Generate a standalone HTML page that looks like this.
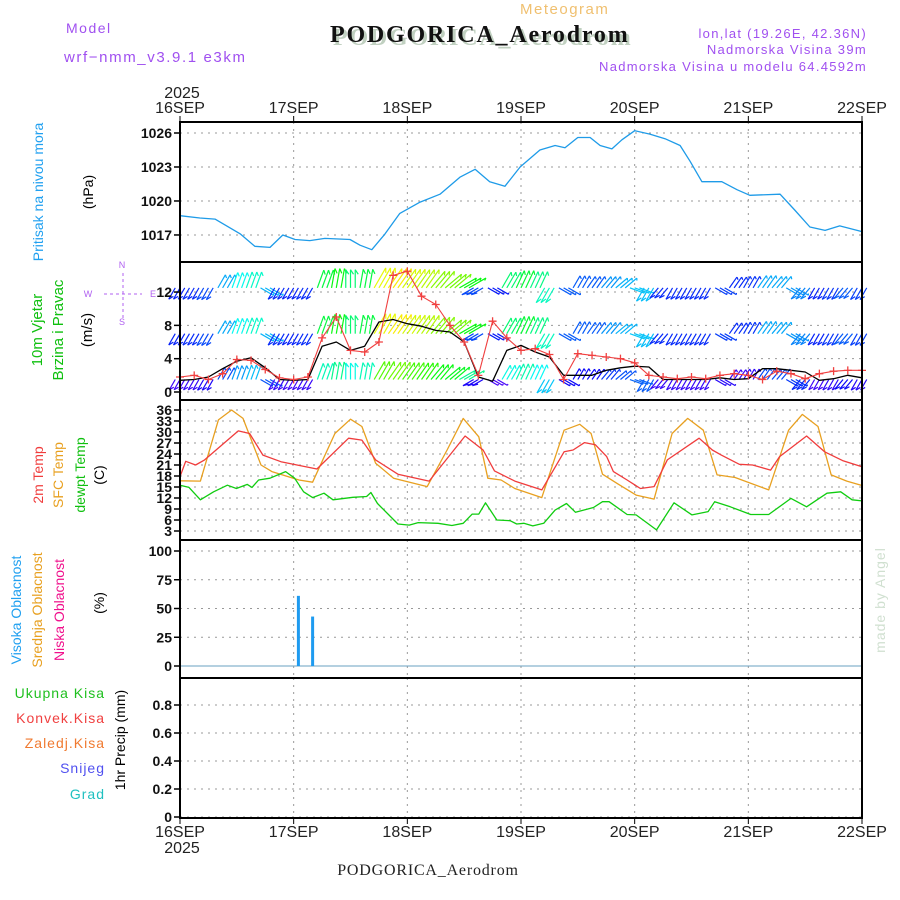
<!DOCTYPE html>
<html><head><meta charset="utf-8"><style>
html,body{margin:0;padding:0;background:#fff;width:900px;height:900px;overflow:hidden}
svg{display:block}
text{font-family:"Liberation Sans",sans-serif}
text.serif{font-family:"Liberation Serif",serif}
</style></head><body>
<svg id="c" width="900" height="900" viewBox="0 0 900 900" xmlns="http://www.w3.org/2000/svg">
<g>
<text x="66" y="33" font-size="14" fill="#a050f0" letter-spacing="1.5">Model</text>
<text x="64" y="62" font-size="15" fill="#a050f0" letter-spacing="1.6">wrf−nmm_v3.9.1 e3km</text>
<text x="520" y="14" font-size="15" fill="#f0c070" letter-spacing="1.5">Meteogram</text>
<text class="serif" x="333" y="45" font-size="24" font-weight="bold" fill="#c0d0c0" letter-spacing="1.8">PODGORICA_Aerodrom</text>
<text class="serif" x="330" y="42" font-size="24" font-weight="bold" fill="#111" letter-spacing="1.8">PODGORICA_Aerodrom</text>
<text x="867" y="38" font-size="13" fill="#a050f0" text-anchor="end" letter-spacing="1.3">lon,lat (19.26E, 42.36N)</text>
<text x="867" y="54" font-size="13" fill="#a050f0" text-anchor="end" letter-spacing="1.3">Nadmorska Visina 39m</text>
<text x="867" y="71" font-size="13" fill="#a050f0" text-anchor="end" letter-spacing="1.3">Nadmorska Visina u modelu 64.4592m</text>
<text class="serif" x="428" y="875" font-size="16" fill="#222" text-anchor="middle" letter-spacing="0.8">PODGORICA_Aerodrom</text>
<text x="885" y="600" font-size="14" fill="#d0e0d0" text-anchor="middle" transform="rotate(-90 885 600)" letter-spacing="1">made by Angel</text>
</g>
<g id="grid"></g>
<g id="marks"></g>
<g id="axes"></g>
<g id="labels"></g>
</svg>
<script>
// ---- data ----
const dayLabels=["16SEP","17SEP","18SEP","19SEP","20SEP","21SEP","22SEP"];
const presHours=[0,4.2,7.4,12.7,15.8,19,21.7,24.3,27.4,30.6,35.9,38,40.5,43.3,46.4,50.7,54.9,59.1,62.3,65.4,68.6,71.8,76,79.2,81.3,84,86.6,88.7,91.2,93.3,96,99.2,102.4,105.6,107.7,110.2,114.4,117.6,120.3,126.7,129.8,133,136.2,139.3,144];
const presVals=[1018.7,1018.5,1018.4,1017.1,1016.0,1015.9,1017.0,1016.6,1016.5,1016.7,1016.6,1016.1,1015.7,1017.1,1018.9,1019.9,1020.6,1022.1,1022.8,1021.7,1021.3,1023.0,1024.5,1024.9,1024.7,1025.6,1025.6,1024.9,1024.6,1025.4,1026.2,1025.9,1025.5,1024.9,1023.5,1021.7,1021.7,1021.0,1020.5,1020.6,1019.2,1017.7,1017.4,1017.8,1017.3];
const presTicks=[1017,1020,1023,1026];
const windHours=[0,3,6,9,12,15,18,21,24,27,30,33,36,39,42,45,48,51,54,57,60,63,66,69,72,75,78,81,84,87,90,93,96,99,102,105,108,111,114,117,120,123,126,129,132,135,138,141,144];
const windSpd=[1.4,1.5,1.8,2.8,3.7,4.1,2.9,1.5,1.4,1.5,5.5,6.0,5.0,5.5,8.4,8.7,8.2,7.9,7.4,7.2,6.0,1.8,1.3,5.0,5.6,4.8,4.2,2.0,2.0,2.0,2.6,2.9,3.1,3.0,1.5,1.5,1.5,1.5,1.7,1.5,1.6,2.8,2.8,2.6,2.4,1.4,1.6,2.0,1.7];
const windGust=[1.8,2.0,1.5,2.2,3.9,3.8,2.7,1.7,1.5,1.8,6.5,9.0,5.0,4.8,6.0,14.0,14.5,11.5,10.5,8.0,6.0,2.0,8.5,6.5,5.0,5.2,4.5,1.5,4.6,4.4,4.2,4.0,3.5,2.0,1.8,1.6,1.8,1.6,2.0,2.2,2.0,1.5,2.5,2.2,1.6,2.2,2.5,2.6,2.6];
const windDir=[30,30,30,210,200,200,300,30,30,30,200,190,180,190,210,215,215,215,220,230,240,60,300,210,205,205,30,300,210,215,220,230,290,30,40,30,30,30,300,215,210,215,220,300,40,30,30,40,30];
const windTicks=[0,4,8,12];
const t2Hours=[0,1.2,3.3,5.2,12.3,14.7,17.5,21.3,28.9,35.6,38.4,41.3,46,52.6,60.2,64,66.4,70.7,76.4,81.1,83,85.4,87.7,90.1,91.5,94.4,97.2,100.1,102.9,109.6,112.4,114.3,118.1,120.9,124.7,126.6,132.3,136.1,139.9,144];
const t2Vals=[17.8,22.0,21.0,22.4,30.3,29.6,23.7,21.9,19.9,28.3,27.8,22.4,18.5,16.6,28.9,25.1,19.4,16.6,14.2,24.6,25.1,27.1,26.5,23.3,19.2,16.9,14.6,15.1,22.4,28.3,25.1,23.7,21.2,21.0,19.6,23.3,28.9,24.6,22.2,20.5];
const sfcHours=[0,4.3,8.1,10.9,13.3,17.1,19.4,25.1,28,32.7,36,38.4,41.3,45.1,52.2,56.4,59.8,63.1,65,67.8,70.7,76.4,81.1,84.4,86.8,89.2,92.5,96.3,100.1,103.9,107.2,110.5,113.4,117.2,124.3,128.5,131.4,134.7,137.5,140.8,144];
const sfcVals=[16.7,16.6,33.3,36,33.7,21,19.2,16.9,16.3,29.6,33.5,31.5,21.5,17.4,15.1,25.1,33.7,28.7,17.4,16.9,14.6,12.1,30.5,32.1,29.6,18.5,15.8,12.8,11.7,29.6,33.7,30.5,18.3,17.6,14.2,30.5,34.8,31.5,18.3,16.6,15.4];
const dewHours=[0,1.9,4.3,7.1,10,11.9,14.2,15.2,16.6,19,22.3,24.2,26.1,28,30.4,32.3,36.5,39.4,40.3,41.7,46,48.4,50.3,54.5,57.4,59.8,61.7,63.1,64.5,66.9,69.7,71.1,72.6,74.5,76.8,79.2,81.6,83.5,87.3,89.2,90.6,94.4,96.3,100.6,104.3,108.1,111.5,112.9,116.2,120.5,124.3,129,132.3,136.6,139.5,141.9,144];
const dewVals=[15.5,14.9,11.5,13.7,15.5,14.6,15.7,14.9,16.9,17.4,19.2,17.4,13.7,12.1,13.3,11.5,12.2,12.4,13.5,10.5,4.9,4.6,5.3,5.1,4.5,5.1,7.6,7.6,10.7,6.0,5.8,4.9,5.1,4.4,5.1,8.7,10.5,8.1,9.4,11.0,11.0,7.5,7.4,3.3,10.7,7.4,8.3,11.0,9.6,7.5,7.5,11.9,9.6,13.3,13.7,11.5,11.2];
const tempTicks=[3,6,9,12,15,18,21,24,27,30,33,36];
const cloudHours=[25,28];
const cloudHigh=[61,43];
const cloudTicks=[0,25,50,75,100];
const precipTicks=[0,0.2,0.4,0.6,0.8];

// ---- scales ----
const X0=180,X1=862,H=144;
const xs=h=>X0+(h/H)*(X1-X0);
const yP=p=>133+(1026-p)*11.33;
const yW=v=>392-v*8.33;
const yT=t=>531-(t-3)*(121/33);
const yC=c=>666-c*1.15;
const yR=r=>817-r*140;
const NS="http://www.w3.org/2000/svg";
function mk(tag,attrs,parent){const e=document.createElementNS(NS,tag);for(const k in attrs)e.setAttribute(k,attrs[k]);parent.appendChild(e);return e;}
const grid=document.getElementById('grid'),marks=document.getElementById('marks'),axes=document.getElementById('axes'),labels=document.getElementById('labels');
const panels=[[122,262],[262,400],[400,540],[540,678],[678,818]];

for(let d=1;d<6;d++){
  const x=xs(d*24);
  panels.forEach(p=>{
    const l=mk('line',{x1:x,x2:x,y1:p[0],y2:p[1],stroke:'#999','stroke-width':1,'stroke-dasharray':'2,5'},grid);
    
    
  });
}
function hgrid(ticks,fy,fmt){
  ticks.forEach(t=>{
    const y=fy(t);
    const l=mk('line',{x1:X0,x2:X1,y1:y,y2:y,stroke:'#999','stroke-width':1,'stroke-dasharray':'2,5'},grid);
    
    
    const tk=mk('line',{x1:X0-6,x2:X0,y1:y,y2:y,stroke:'#000','stroke-width':1.5},axes);
    
    
    const tx=mk('text',{x:X0-8,y:y+5,'font-size':14,'font-weight':'bold','text-anchor':'end',fill:'#111'},axes);
    tx.textContent=fmt?fmt(t):t;
    
    
  });
}
hgrid(presTicks,yP);
hgrid(windTicks,yW);
hgrid(tempTicks,yT);
hgrid(cloudTicks,yC);
hgrid(precipTicks,yR,t=>t===0?'0':t.toFixed(1));

function line(hs,vs,fy,color,w,name){
  const pts=hs.map((h,i)=>xs(h).toFixed(1)+','+fy(vs[i]).toFixed(1)).join(' ');
  const pl=mk('polyline',{points:pts,fill:'none',stroke:color,'stroke-width':w,'stroke-linejoin':'round'},marks);
  
  
}
line(presHours,presVals,yP,'#1e9be8',1.3,'pressure-line');
line(sfcHours,sfcVals,yT,'#e8a020',1.3,'sfc-temp-line');
line(t2Hours,t2Vals,yT,'#f03c3c',1.3,'2m-temp-line');
line(dewHours,dewVals,yT,'#10cc10',1.3,'dewpoint-line');

// wind barbs
function hueFor(s){const h=Math.max(0,285-s*22);return 'hsl('+h+',95%,50%)';}
const rowBase=[1.5,7,12.5];
const step=(X1-X0)/144;
rowBase.forEach((b,ri)=>{
  windHours.forEach((h,i)=>{
    const s=ri===0?windSpd[i]:windSpd[i]*1.1+0.8;
    const dir=windDir[i]*Math.PI/180;
    const len=10+s*1.3;
    const dx=-Math.sin(dir)*len,dy=Math.cos(dir)*len;
    const c=hueFor(s);
    const g=mk('g',{stroke:c,'stroke-width':1.2,fill:'none'},marks);
    
    
    for(let k=-1;k<=1;k++){
      const x=xs(h)+k*step,y=yW(b);
      mk('line',{x1:x,y1:y,x2:x+dx,y2:y+dy},g);
      mk('line',{x1:x+dx,y1:y+dy,x2:x+dx*0.75+3,y2:y+dy*0.75},g);
    }
  });
});
line(windHours,windSpd,yW,'#000',1.3,'wind-speed-line');
line(windHours,windGust,yW,'#f04040',1.1,'wind-gust-line');
windHours.forEach((h,i)=>{
  const x=xs(h),y=yW(windGust[i]);
  const p=mk('path',{d:`M${x-4} ${y}H${x+4}M${x} ${y-4}V${y+4}`,stroke:'#f04040','stroke-width':1.3},marks);
  
  
});

// clouds
const cb=mk('line',{x1:X0,x2:X1,y1:yC(0),y2:yC(0),stroke:'#6aa0c0','stroke-width':1},marks);


cloudHours.forEach((h,i)=>{
  const r=mk('rect',{x:xs(h)-1.5,y:yC(cloudHigh[i]),width:3,height:yC(0)-yC(cloudHigh[i]),fill:'#1e9bf0'},marks);
  
  
});

panels.forEach((p,i)=>{
  const r=mk('rect',{x:X0,y:p[0],width:X1-X0,height:p[1]-p[0],fill:'none',stroke:'#000','stroke-width':2},axes);
  
  
});
dayLabels.forEach((d,i)=>{
  const x=xs(i*24);
  const t1=mk('line',{x1:x,x2:x,y1:116,y2:122,stroke:'#000'},axes);
  
  
  const t2=mk('line',{x1:x,x2:x,y1:818,y2:824,stroke:'#000'},axes);
  
  
  const a=mk('text',{x:x,y:113,'font-size':16,'text-anchor':'middle',fill:'#222'},axes);
  a.textContent=d;
  
  
  const b=mk('text',{x:x,y:837,'font-size':16,'text-anchor':'middle',fill:'#222'},axes);
  b.textContent=d;
  
  
});
[[182,98],[182,853]].forEach(p=>{
  const t=mk('text',{x:p[0],y:p[1],'font-size':16,'text-anchor':'middle',fill:'#222'},axes);
  t.textContent='2025';
  
  
});

function vt(x,y,txt,color,size,name){
  const t=mk('text',{x:x,y:y,'font-size':size||14,fill:color,'text-anchor':'middle',transform:`rotate(-90 ${x} ${y})`},labels);
  t.textContent=txt;
  
  
}
vt(43,192,'Pritisak na nivou mora','#20a0f0',14,'pressure-title');
vt(93,192,'(hPa)','#000',14,'pressure-unit');
vt(42,330,'10m Vjetar','#10c010',15,'wind-title');
vt(63,330,'Brzina i Pravac','#10c010',15,'wind-subtitle');
vt(92,330,'(m/s)','#000',15,'wind-unit');
vt(43,475,'2m Temp','#f03c3c',14,'temp-2m-title');
vt(63,475,'SFC Temp','#e8a020',14,'temp-sfc-title');
vt(85,475,'dewpt Temp','#10c010',14,'dewpoint-title');
vt(104,475,'(C)','#000',14,'temp-unit');
vt(21,610,'Visoka Oblacnost','#20a0f0',14,'high-cloud-title');
vt(42,610,'Srednja Oblacnost','#e8a020',14,'mid-cloud-title');
vt(64,610,'Niska Oblacnost','#f0108c',14,'low-cloud-title');
vt(104,603,'(%)','#000',14,'cloud-unit');
vt(125,740,'1hr Precip (mm)','#000',14,'precip-title');
[['Ukupna Kisa','#20c020',698],['Konvek.Kisa','#f04040',723],['Zaledj.Kisa','#f07a30',748],['Snijeg','#5050f0',773],['Grad','#20c0c0',799]].forEach(a=>{
  const t=mk('text',{x:105,y:a[2],'font-size':14,fill:a[1],'text-anchor':'end','letter-spacing':1},labels);
  t.textContent=a[0];
  
  
});
const cg=mk('g',{fill:'#b060f0','font-size':9},labels);


[['N',122,268],['W',88,297],['E',153,297],['S',122,325]].forEach(a=>{const t=mk('text',{x:a[1],y:a[2],'text-anchor':'middle'},cg);t.textContent=a[0];});
mk('path',{d:'M104 294H142M123 273V318',stroke:'#b060f0','stroke-width':1,'stroke-dasharray':'3,3',fill:'none'},cg);
</script>
</body></html>
